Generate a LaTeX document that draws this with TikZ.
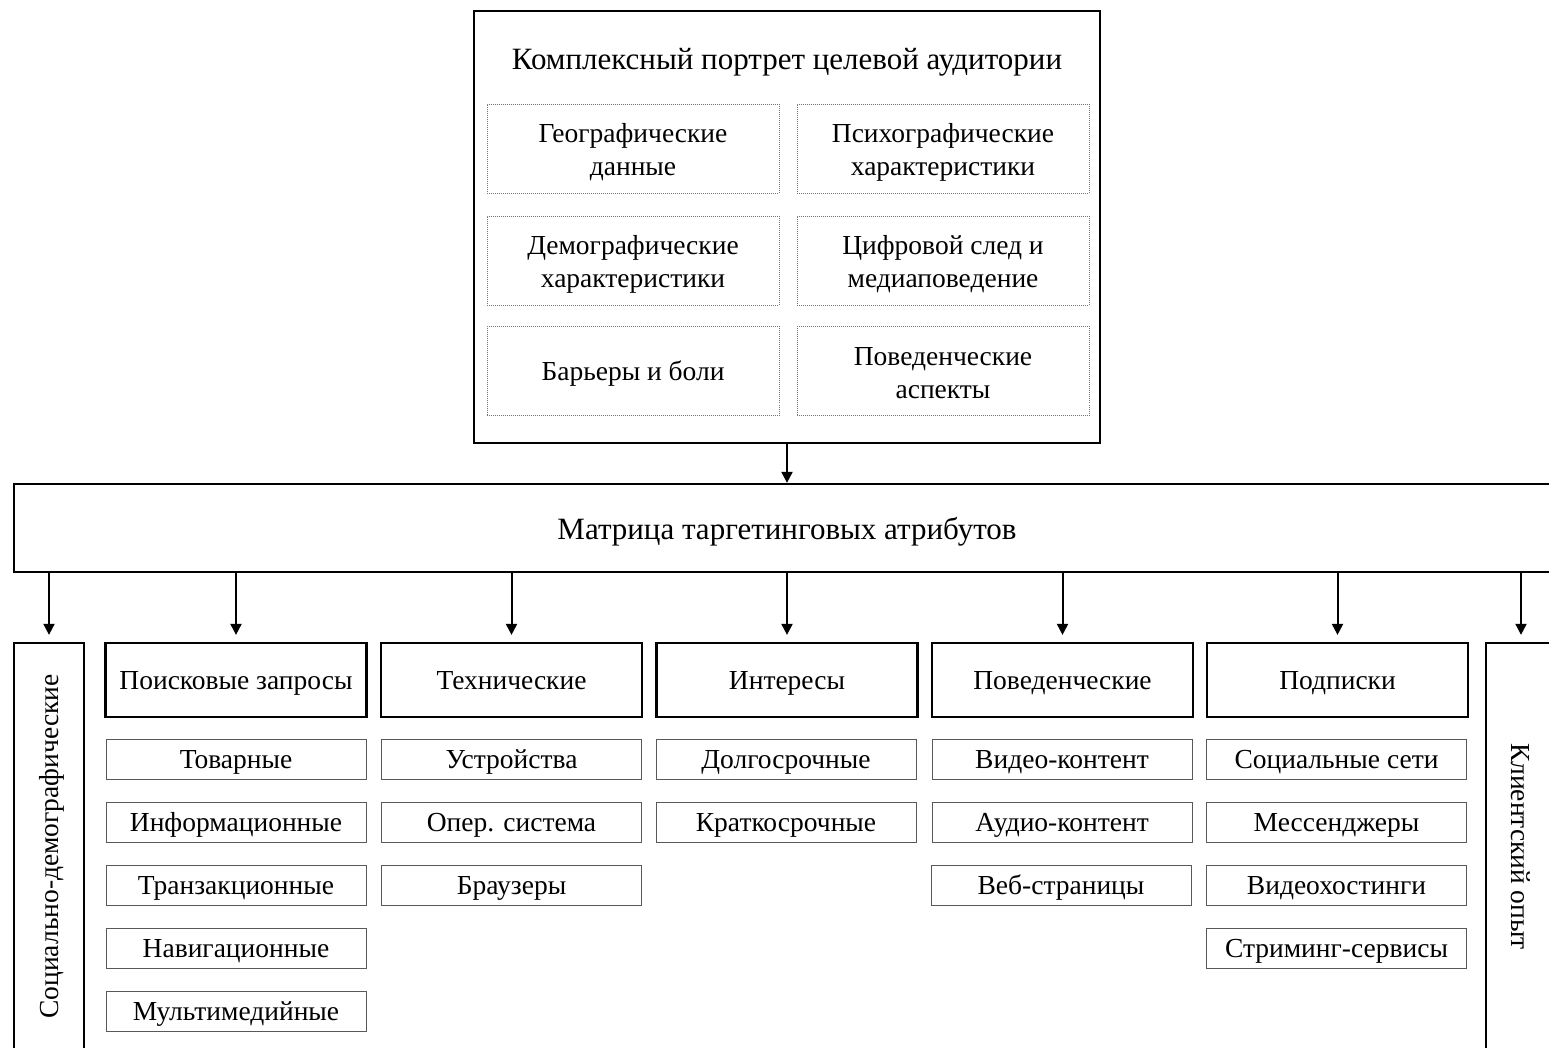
\documentclass[tikz,border=0pt]{standalone}
\usepackage{fontspec}
\setmainfont{Liberation Serif}
\usetikzlibrary{arrows.meta}
\begin{document}
\begin{tikzpicture}[x=1pt,y=-1pt,
  every node/.style={font=\fontsize{27.5}{33}\selectfont, inner sep=0pt, align=center},
  bigfont/.style={font=\fontsize{31}{37}\selectfont},
  oneline/.style={text height=22pt, text depth=3pt},
  twolines/.style={text height=58pt, text depth=4pt},
  bigline/.style={text height=26pt, text depth=3.5pt},
  bigbox/.style={draw, line width=2.3pt},
  catbox/.style={draw, line width=2.2pt, oneline, minimum width=261pt, minimum height=74pt},
  subbox/.style={draw=black!65, line width=1pt, oneline, minimum width=260pt, minimum height=40pt},
  facet/.style={draw=black!55, line width=0.8pt, dash pattern=on 1pt off 1pt,
    twolines, minimum width=292pt, minimum height=89pt},
  arr/.style={line width=2pt, -{Triangle[width=11pt,length=11pt]}}]
\clip (0,0) rectangle (1549,1048);
\fill[white] (0,0) rectangle (1549,1048);

% audience portrait
\node[bigbox, minimum width=626pt, minimum height=432pt] (portrait) at (787,227) {};
\node[bigfont, bigline] (ptitle) at (787,58) {Комплексный портрет целевой аудитории};
\node[facet] (geo) at (633,148.5) {Географические\\данные};
\node[facet] (psy) at (943,148.5) {Психографические\\характеристики};
\node[facet] (dem) at (633,260.5) {Демографические\\характеристики};
\node[facet] (dig) at (943,260.5) {Цифровой след и\\медиаповедение};
\node[facet, oneline] (bar) at (633,371) {Барьеры и боли};
\node[facet] (beh) at (943,371) {Поведенческие\\аспекты};

% attribute matrix
\node[bigbox, bigfont, bigline, minimum width=1546pt, minimum height=88pt] (matrix) at (787,528) {Матрица таргетинговых атрибутов};
\draw[arr] (portrait.south) -- (matrix.north);

% side boxes
\node[bigbox, oneline, rotate=90, minimum width=407pt, minimum height=70pt] (soc) at (49,846.5) {Социально-демографические};
\node[bigbox, oneline, rotate=-90, minimum width=407pt, minimum height=70pt] (cx) at (1521,846.5) {Клиентский опыт};

% categories
\node[catbox] (search) at (236,680) {Поисковые запросы};
\node[catbox] (tech) at (511.5,680) {Технические};
\node[catbox] (int) at (787,680) {Интересы};
\node[catbox] (behav) at (1062.5,680) {Поведенческие};
\node[catbox] (subs) at (1337.5,680) {Подписки};

% search queries
\node[subbox] (s1) at (236,759) {Товарные};
\node[subbox] (s2) at (236,822) {Информационные};
\node[subbox] (s3) at (236,885) {Транзакционные};
\node[subbox] (s4) at (236,948) {Навигационные};
\node[subbox] (s5) at (236,1011) {Мультимедийные};
% technical
\node[subbox] (t1) at (511.5,759) {Устройства};
\node[subbox] (t2) at (511.5,822) {Опер. система};
\node[subbox] (t3) at (511.5,885) {Браузеры};
% interests
\node[subbox] (i1) at (786,759) {Долгосрочные};
\node[subbox] (i2) at (786,822) {Краткосрочные};
% behavioural
\node[subbox] (b1) at (1062,759) {Видео-контент};
\node[subbox] (b2) at (1062,822) {Аудио-контент};
\node[subbox] (b3) at (1061,885) {Веб-страницы};
% subscriptions
\node[subbox] (u1) at (1336.5,759) {Социальные сети};
\node[subbox] (u2) at (1336.5,822) {Мессенджеры};
\node[subbox] (u3) at (1336.5,885) {Видеохостинги};
\node[subbox] (u4) at (1336.5,948) {Стриминг-сервисы};

% matrix to categories
\draw[arr, shorten >=7pt] (matrix.south -| soc.east) -- (soc.east);
\draw[arr, shorten >=7pt] (matrix.south -| search.north) -- (search.north);
\draw[arr, shorten >=7pt] (matrix.south -| tech.north) -- (tech.north);
\draw[arr, shorten >=7pt] (matrix.south -| int.north) -- (int.north);
\draw[arr, shorten >=7pt] (matrix.south -| behav.north) -- (behav.north);
\draw[arr, shorten >=7pt] (matrix.south -| subs.north) -- (subs.north);
\draw[arr, shorten >=7pt] (matrix.south -| cx.west) -- (cx.west);
\end{tikzpicture}
\end{document}
